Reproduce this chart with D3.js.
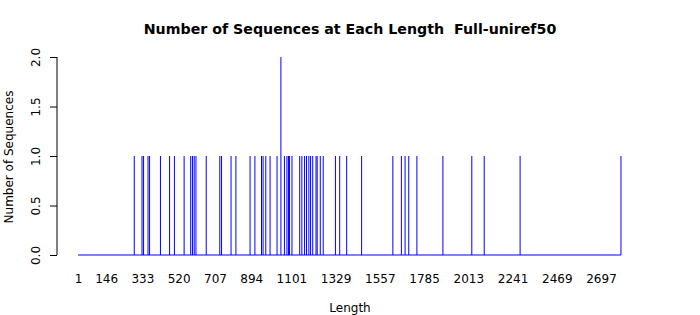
<!DOCTYPE html>
<html>
<head>
<meta charset="utf-8">
<script src="https://cdn.jsdelivr.net/npm/d3@7"></script>
<style>
  html, body { margin: 0; padding: 0; background: #fff; }
  svg { display: block; font-family: "DejaVu Sans", sans-serif; }
</style>
</head>
<body>
<svg id="chart" width="700" height="315"></svg>
<script>
// Sequence lengths that have at least one sequence, and their counts
const lengths = [291, 331, 339, 362, 370, 426, 473, 498, 548, 582, 591, 600, 609, 662,
  732, 741, 790, 815, 888, 913, 947, 955, 969, 991, 1027, 1047, 1065, 1078, 1086, 1091,
  1104, 1144, 1155, 1169, 1179, 1191, 1200, 1211, 1228, 1234, 1250, 1265, 1328, 1350,
  1386, 1463, 1624, 1668, 1687, 1706, 1748, 1882, 2031, 2095, 2280, 2800];
const counts = lengths.map(l => l === 1047 ? 2 : 1);
const xTickLabels = [1, 146, 333, 520, 707, 894, 1101, 1329, 1557, 1785, 2013, 2241, 2469, 2697];
const yTicks = [0, 0.5, 1.0, 1.5, 2.0];
const minLength = 1, maxLength = 2800;

const svg = d3.select("#chart");
const x = d3.scaleLinear().domain([1, 2697]).range([78, 601]);
const y = d3.scaleLinear().domain([0, 2]).range([255, 57]);

// title
svg.append("text").attr("x", 350).attr("y", 34).attr("text-anchor", "middle")
  .attr("font-weight", "bold").attr("font-size", 14.2)
  .style("white-space", "pre")
  .text("Number of Sequences at Each Length  Full-uniref50");

// baseline (zero-height bars)
svg.append("line").attr("x1", x(minLength)).attr("x2", x(maxLength))
  .attr("y1", y(0)).attr("y2", y(0)).attr("stroke", "#0000ff").attr("stroke-width", 1);

// bars
svg.append("g").selectAll("line").data(lengths).join("line")
  .attr("x1", d => x(d)).attr("x2", d => x(d))
  .attr("y1", y(0)).attr("y2", (d, i) => y(counts[i]))
  .attr("stroke", "#0000ff").attr("stroke-width", 1);

// y axis
const yAxis = svg.append("g").attr("transform", "translate(57,0)")
  .call(d3.axisLeft(y).tickValues(yTicks).tickFormat(d3.format(".1f")).tickSize(7).tickPadding(0));
yAxis.select(".domain").attr("d", `M0,${y(2)}V${y(0)}`).attr("stroke", "#000");
yAxis.selectAll(".tick line").attr("stroke", "#000");
yAxis.selectAll(".tick text")
  .attr("font-size", 12).attr("font-family", "DejaVu Sans, sans-serif").attr("fill", "#000")
  .attr("text-anchor", "middle").attr("dy", null).attr("x", null)
  .attr("transform", "translate(-21,0) rotate(-90)").attr("dominant-baseline", "middle");

// x axis labels
const xAxis = svg.append("g").attr("transform", `translate(0,${y(0)})`)
  .call(d3.axisBottom(x).tickValues(xTickLabels).tickFormat(d3.format("d")).tickSize(0).tickPadding(19));
xAxis.select(".domain").remove();
xAxis.selectAll(".tick text").attr("font-size", 12)
  .attr("font-family", "DejaVu Sans, sans-serif").attr("fill", "#000");

// axis titles
svg.append("text").attr("x", 350).attr("y", 312).attr("text-anchor", "middle")
  .attr("font-size", 12).text("Length");
svg.append("text").attr("transform", "translate(13,157) rotate(-90)")
  .attr("text-anchor", "middle").attr("font-size", 12).text("Number of Sequences");
</script>
</body>
</html>
